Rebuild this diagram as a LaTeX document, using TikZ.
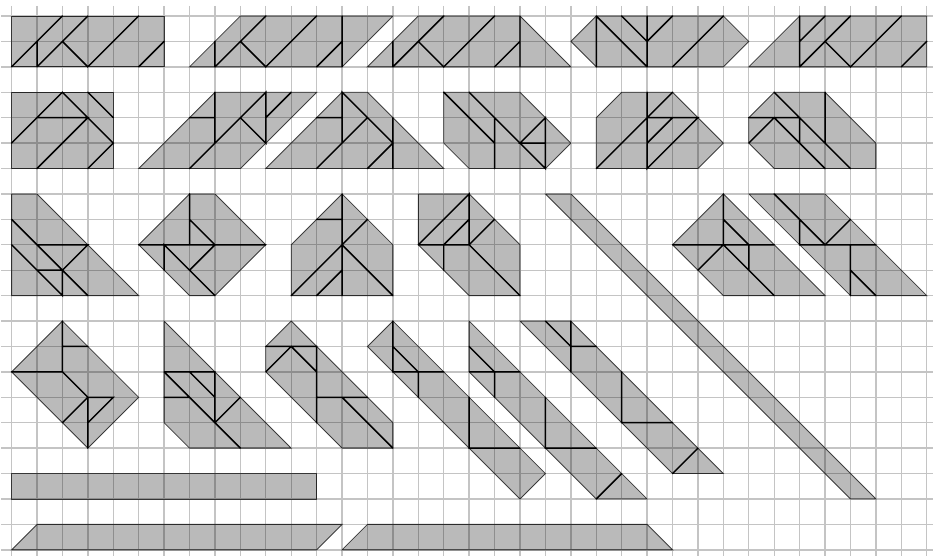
\documentclass[tikz,border=0pt]{standalone}
\tikzset{
  gridline/.style={line width=1.55pt,color=black!23},
  piece/.style={fill=black,fill opacity=0.27,draw=black,draw opacity=0.72,line width=0.95pt,line join=miter},
  cut/.style={draw=black,line width=1.65pt,line cap=round}
}
\newcommand{\shp}[2]{\path[piece] #1 -- cycle; \draw[cut] #2;}
\begin{document}
\begin{tikzpicture}[x=1cm,y=-1cm]
\useasboundingbox (-0.4563,-0.6294) rectangle (36.2467,21.2425);
\foreach \k in {0,...,36}{\draw[gridline] (\k,-0.4) -- (\k,21.4);}
\foreach \j in {0,...,21}{\draw[gridline] (-0.4,\j) -- (36.4,\j);}
% row 1
\shp{(0,0)--(6,0)--(6,2)--(0,2)}{(0,2)--(2,0) (1,2)--(1,1) (1,2)--(3,0) (2,1)--(3,2)--(5,0) (5,2)--(6,1)}
\shp{(7,2)--(9,0)--(15,0)--(13,2)}{(8,2)--(8,1) (8,2)--(10,0) (9,1)--(10,2)--(12,0) (12,2)--(13,1) (13,2)--(13,0)}
\shp{(14,2)--(16,0)--(20,0)--(22,2)}{(15,2)--(15,1) (15,2)--(17,0) (16,1)--(17,2)--(19,0) (19,2)--(20,1) (20,2)--(20,0)}
\shp{(22,1)--(23,0)--(28,0)--(29,1)--(28,2)--(23,2)}{(23,0)--(23,2) (23,0)--(25,2) (24,0)--(25,1)--(26,0) (25,0)--(25,2) (26,2)--(28,0)}
\shp{(29,2)--(31,0)--(36,0)--(36,2)}{(31,0)--(31,2) (31,1)--(32,0) (31,2)--(33,0) (32,1)--(33,2)--(35,0) (35,2)--(36,1)}
% row 2
\shp{(0,3)--(4,3)--(4,6)--(0,6)}{(0,5)--(2,3)--(4,5)--(3,6) (1,4)--(3,4)--(1,6) (3,3)--(4,4)}
\shp{(5,6)--(8,3)--(12,3)--(9,6)}{(7,4)--(8,4) (8,3)--(8,5) (7,6)--(10,3)--(10,5)--(9,4) (10,4)--(11,3)}
\shp{(10,6)--(13,3)--(14,3)--(17,6)}{(12,4)--(13,4) (13,5)--(13,3)--(15,5)--(14,6) (12,6)--(14,4) (15,4)--(15,6)}
\shp{(17,3)--(20,3)--(22,5)--(21,6)--(18,6)--(17,5)}{(17,3)--(19,5) (18,3)--(21,6)--(21,4)--(20,5)--(21,5) (19,4)--(19,6)}
\shp{(23,4)--(24,3)--(26,3)--(28,5)--(27,6)--(23,6)}{(23,6)--(26,3) (25,3)--(25,6)--(27,4)--(25,4) (25,5)--(26,4)}
\shp{(29,4)--(30,3)--(32,3)--(34,5)--(34,6)--(30,6)--(29,5)}{(30,3)--(33,6) (32,6)--(30,4)--(29,5) (29,4)--(31,4)--(31,5) (32,3)--(32,5)}
% row 3
\shp{(0,7)--(1,7)--(5,11)--(0,11)}{(0,8)--(3,11) (0,9)--(2,11)--(2,10)--(1,10) (1,9)--(3,9)--(2,10)}
\shp{(5,9)--(7,7)--(8,7)--(10,9)--(8,11)--(7,11)}{(5,9)--(10,9) (7,7)--(7,9) (7,8)--(8,9)--(7,10) (6,10)--(6,9)--(8,11)}
\shp{(11,9)--(13,7)--(15,9)--(15,11)--(11,11)}{(13,7)--(13,11) (12,8)--(13,8) (14,8)--(11,11) (12,11)--(13,10) (13,9)--(15,11)}
\shp{(16,7)--(18,7)--(20,9)--(20,11)--(18,11)--(16,9)}{(16,9)--(18,7)--(18,9)--(16,9) (17,9)--(18,8) (17,9)--(17,10) (19,8)--(18,9)--(20,11)}
\shp{(21,7)--(22,7)--(34,19)--(33,19)}{}
\shp{(26,9)--(28,7)--(32,11)--(28,11)}{(26,9)--(30,9) (28,7)--(28,9) (28,8)--(29,9)--(29,10) (27,10)--(28,9)--(30,11)}
\shp{(29,7)--(32,7)--(36,11)--(33,11)}{(30,7)--(32,9)--(33,8) (31,8)--(31,9)--(34,9) (33,9)--(33,11) (33,10)--(34,11)}
% row 4
\shp{(0,14)--(2,12)--(5,15)--(3,17)}{(0,14)--(2,14)--(2,12) (2,13)--(3,13) (2,14)--(3,15)--(2,16) (3,17)--(3,15)--(4,15)--(3,16)}
\shp{(6,12)--(11,17)--(7,17)--(6,16)}{(6,14)--(8,14)--(8,16) (7,14)--(8,15) (6,14)--(9,17) (6,15)--(7,15) (8,16)--(9,15)}
\shp{(10,13)--(11,12)--(15,16)--(15,17)--(13,17)--(10,14)}{(10,13)--(12,13)--(12,16) (10,14)--(11,13)--(12,14) (12,15)--(14,15) (13,15)--(15,17)}
\shp{(14,13)--(15,12)--(21,18)--(20,19)}{(15,12)--(15,14)--(17,14) (15,13)--(16,14)--(16,15) (18,15)--(18,17)--(20,17)}
\shp{(18,12)--(25,19)--(23,19)--(18,14)}{(18,13)--(19,14) (18,14)--(20,14) (19,14)--(19,15) (21,15)--(21,17)--(23,17) (23,19)--(24,18)}
\shp{(20,12)--(22,12)--(28,18)--(26,18)}{(21,12)--(22,13) (22,12)--(22,14) (22,13)--(23,13) (24,14)--(24,16)--(26,16) (26,18)--(27,17)}
% bars
\shp{(0,18)--(12,18)--(12,19)--(0,19)}{}
\shp{(0,21)--(1,20)--(13,20)--(12,21)}{}
\shp{(13,21)--(14,20)--(25,20)--(26,21)}{}
\end{tikzpicture}
\end{document}
